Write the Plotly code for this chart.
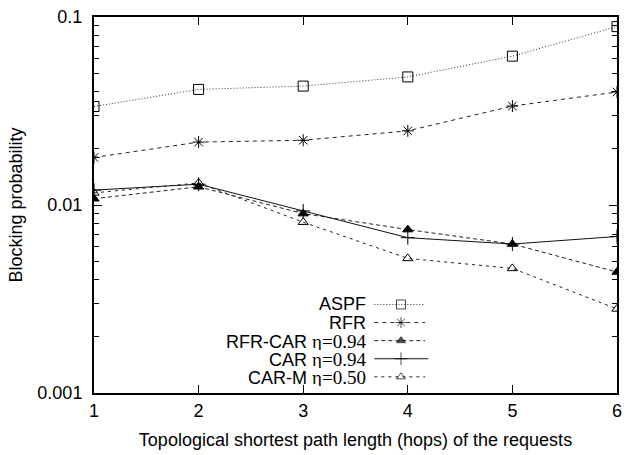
import plotly.graph_objects as go

# Blocking probability versus topological shortest path length
hops = [1, 2, 3, 4, 5, 6]
aspf = [0.0334, 0.0412, 0.0429, 0.0480, 0.0619, 0.0889]
rfr = [0.0179, 0.0216, 0.0221, 0.0248, 0.0336, 0.0399]
rfr_car = [0.0108, 0.0125, 0.0090, 0.0074, 0.0062, 0.0044]
car = [0.0120, 0.0129, 0.0093, 0.0067, 0.0062, 0.0068]
car_m = [0.0116, 0.0131, 0.0081, 0.0052, 0.0046, 0.0028]

x_ticks = [1, 2, 3, 4, 5, 6]
y_ticks = [0.001, 0.01, 0.1]
y_tick_text = ["0.001", "0.01", "0.1"]
minor_y = [m * d for d in (0.001, 0.01) for m in range(2, 10)]

SANS = "Liberation Sans, Arial, sans-serif"
SERIF = "'Liberation Serif', 'Times New Roman', serif"

series = [
    dict(name="ASPF", eta=None, y=aspf, symbol="square-open", size=10, dash="1px,2px", color="#333"),
    dict(name="RFR", eta=None, y=rfr, symbol="asterisk-open", size=10, dash="4px,4px", color="#222"),
    dict(name="RFR-CAR", eta="0.94", y=rfr_car, symbol="triangle-up", size=9, dash="4px,3px", color="#222"),
    dict(name="CAR", eta="0.94", y=car, symbol="cross-thin-open", size=10, dash="solid", color="#111"),
    dict(name="CAR-M", eta="0.50", y=car_m, symbol="triangle-up-open", size=9, dash="3px,4px", color="#222"),
]

fig = go.Figure()

for s in series:
    fig.add_trace(go.Scatter(
        x=hops, y=s["y"], mode="lines+markers", showlegend=False,
        line=dict(color=s["color"], width=1, dash=s["dash"]),
        marker=dict(symbol=s["symbol"], size=s["size"], color="black",
                    line=dict(color="black", width=1)),
    ))

# Key drawn inside the plot: label on the left, line sample with marker on the right
key_text_x = 0.5245
key_x0, key_xm, key_x1 = 0.536, 0.587, 0.633
key_top, key_step = 0.2354, 0.0481

for i, s in enumerate(series):
    ky = key_top - i * key_step
    label = s["name"]
    if s["eta"]:
        label += f' <span style="font-family:{SERIF};font-size:19px">η={s["eta"]}</span>'
    fig.add_annotation(
        x=key_text_x, y=ky, xref="paper", yref="paper", text=label,
        showarrow=False, xanchor="right", yanchor="middle", height=18,
        font=dict(family=SANS, size=18, color="black"),
    )
    fig.add_trace(go.Scatter(
        x=[key_x0, key_xm, key_x1 + (0.006 if s["dash"] == "solid" else 0)],
        y=[ky, ky, ky], xaxis="x2", yaxis="y2",
        mode="lines+markers", showlegend=False, hoverinfo="skip",
        line=dict(color=s["color"], width=1, dash=s["dash"]),
        marker=dict(symbol=s["symbol"], size=[0, s["size"] - 1, 0], color="black",
                    line=dict(color="black", width=1)),
    ))

axis_common = dict(
    showline=True, linecolor="black", linewidth=2, mirror="ticks",
    ticks="inside", tickcolor="black", tickwidth=1, ticklen=8,
    showgrid=False, zeroline=False,
    tickfont=dict(family=SANS, size=18, color="black"),
)

fig.update_layout(
    width=629, height=455,
    margin=dict(l=94, r=7, t=12, b=62),
    paper_bgcolor="white", plot_bgcolor="white",
    font=dict(family=SANS, size=18, color="black"),
    xaxis=dict(
        **axis_common, range=[1, 6], tickvals=x_ticks,
        title=dict(text="Topological shortest path length (hops) of the requests",
                   font=dict(family=SANS, size=18), standoff=14),
    ),
    yaxis=dict(
        **axis_common, type="log", range=[-3, -1],
        tickvals=y_ticks, ticktext=y_tick_text, ticklabelstandoff=6,
        minor=dict(tickvals=minor_y, ticks="inside", ticklen=5, tickwidth=1, tickcolor="black"),
        title=dict(text="Blocking probability", font=dict(family=SANS, size=18), standoff=10),
    ),
    xaxis2=dict(overlaying="x", range=[0, 1], visible=False),
    yaxis2=dict(overlaying="y", range=[0, 1], visible=False),
)

fig.write_html("out.html")
